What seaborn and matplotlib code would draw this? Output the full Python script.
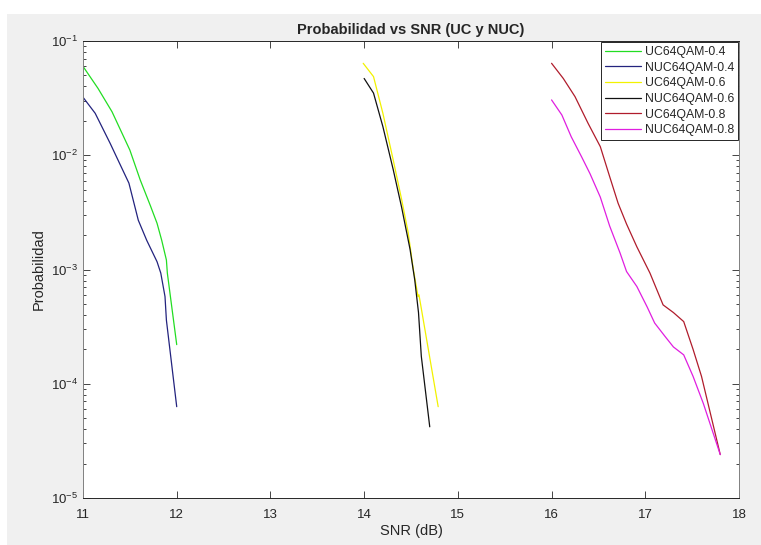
import pandas as pd
import matplotlib
matplotlib.use("Agg")
from matplotlib import pyplot as plt
from matplotlib.patches import Rectangle
import matplotlib.ticker as mticker
import seaborn as sns

# valores
snr_uc04 = [11.0, 11.16, 11.31, 11.5, 11.61, 11.72, 11.79, 11.84, 11.89, 11.9, 12.0]
p_uc04 = [0.060, 0.0385, 0.024, 0.0111, 0.0061, 0.0036, 0.00254, 0.0018, 0.00121, 0.00093, 0.00022]

snr_nuc04 = [11.0, 11.13, 11.29, 11.39, 11.49, 11.59, 11.68, 11.79, 11.83, 11.875, 11.89, 12.0]
p_nuc04 = [0.0322, 0.0233, 0.0127, 0.0085, 0.0057, 0.0027, 0.0018, 0.00117, 0.00093, 0.00058, 0.00036, 0.000063]

snr_uc06 = [13.99, 14.1, 14.2, 14.31, 14.4, 14.47, 14.525, 14.575, 14.585, 14.79]
p_uc06 = [0.0638, 0.0488, 0.0233, 0.0091, 0.0041, 0.0021, 0.001, 0.00058, 0.00060, 0.000063]

snr_nuc06 = [14.0, 14.1, 14.2, 14.31, 14.4, 14.49, 14.54, 14.58, 14.61, 14.7]
p_nuc06 = [0.047, 0.035, 0.0178, 0.0075, 0.0035, 0.0015, 0.00081, 0.00042, 0.000174, 0.000042]

snr_uc08 = [16.0, 16.125, 16.25, 16.39, 16.52, 16.62, 16.71, 16.8, 16.91, 17.05, 17.19, 17.3, 17.41, 17.51, 17.6, 17.8]
p_uc08 = [0.0638, 0.047, 0.0326, 0.019, 0.0119, 0.0065, 0.0038, 0.0025, 0.00158, 0.00093, 0.00049, 0.00042, 0.00035, 0.0002, 0.000116, 0.000024]

snr_nuc08 = [16.0, 16.11, 16.21, 16.32, 16.41, 16.52, 16.62, 16.73, 16.8, 16.91, 17.02, 17.1, 17.21, 17.3, 17.41, 17.51, 17.62, 17.8]
p_nuc08 = [0.0305, 0.0225, 0.0145, 0.0097, 0.0069, 0.0043, 0.0024, 0.0014, 0.00096, 0.00071, 0.00047, 0.00034, 0.00026, 0.00021, 0.000179, 0.000116, 0.000067, 0.000024]

series_names = ["UC64QAM-0.4", "NUC64QAM-0.4", "UC64QAM-0.6",
                "NUC64QAM-0.6", "UC64QAM-0.8", "NUC64QAM-0.8"]
series_colors = ["#22dd22", "#23237e", "#f2f200", "#111111", "#b01c2c", "#e01ee0"]

xs = [snr_uc04, snr_nuc04, snr_uc06, snr_nuc06, snr_uc08, snr_nuc08]
ys = [p_uc04, p_nuc04, p_uc06, p_nuc06, p_uc08, p_nuc08]

frames = []
for name, x, y in zip(series_names, xs, ys):
    frames.append(pd.DataFrame({"SNR": x, "P": y, "serie": name}))
df = pd.concat(frames, ignore_index=True)

sns.set_style("ticks")
plt.rcParams['font.family'] = ['Liberation Sans', 'DejaVu Sans']
plt.rcParams['mathtext.fontset'] = 'custom'
plt.rcParams['mathtext.rm'] = 'Liberation Sans'

fig = plt.figure(figsize=(7.61, 5.45), dpi=100, facecolor="white")
# fondo gris tipo MATLAB
fig.patches.append(Rectangle((7 / 761, 0), 1, 1 - 14 / 545, transform=fig.transFigure,
                             facecolor="#f0f0f0", edgecolor="none", zorder=-10))
ax = fig.add_axes([83 / 761, 1 - 498 / 545, 656 / 761, 457 / 545])

sns.lineplot(data=df, x="SNR", y="P", hue="serie", hue_order=series_names,
             palette=series_colors, estimator=None, sort=False, linewidth=0.9, ax=ax)

ax.set_yscale("log")
ax.set_xlim(11, 18)
ax.set_ylim(1e-5, 1e-1)
ax.set_xticks(range(11, 19))
ax.yaxis.set_major_locator(mticker.LogLocator(base=10, numticks=10))
ax.yaxis.set_minor_locator(mticker.LogLocator(base=10, subs=range(2, 10), numticks=10))
ax.yaxis.set_minor_formatter(mticker.NullFormatter())

ax.tick_params(which="both", direction="in", top=True, right=True,
               colors="#262626", labelsize=9.5, width=0.6)
ax.tick_params(which="major", length=5)
ax.tick_params(which="minor", length=2.5)
ax.tick_params(axis="x", pad=8)
for s in ax.spines.values():
    s.set_color("#262626")
    s.set_linewidth(0.7)
ax.spines["left"].set_color("#808080")
ax.spines["right"].set_color("#808080")

ax.set_xlabel("SNR (dB)", fontsize=10.5, color="#262626", labelpad=2)
ax.set_ylabel("Probabilidad", fontsize=10.5, color="#262626")
ax.set_title("Probabilidad vs SNR (UC y NUC)", fontsize=10.5, fontweight="bold", pad=5)

leg = ax.legend(loc="upper right", fontsize=8.8, frameon=True, fancybox=False,
                framealpha=1, edgecolor="#262626", borderaxespad=0.1,
                handlelength=3.0, handletextpad=0.3, labelspacing=0.3,
                borderpad=0.3, title=None)
leg.get_frame().set_linewidth(0.7)
for t in leg.get_texts():
    t.set_color("#262626")

fig.savefig("out.png", dpi=100, facecolor=fig.get_facecolor())
